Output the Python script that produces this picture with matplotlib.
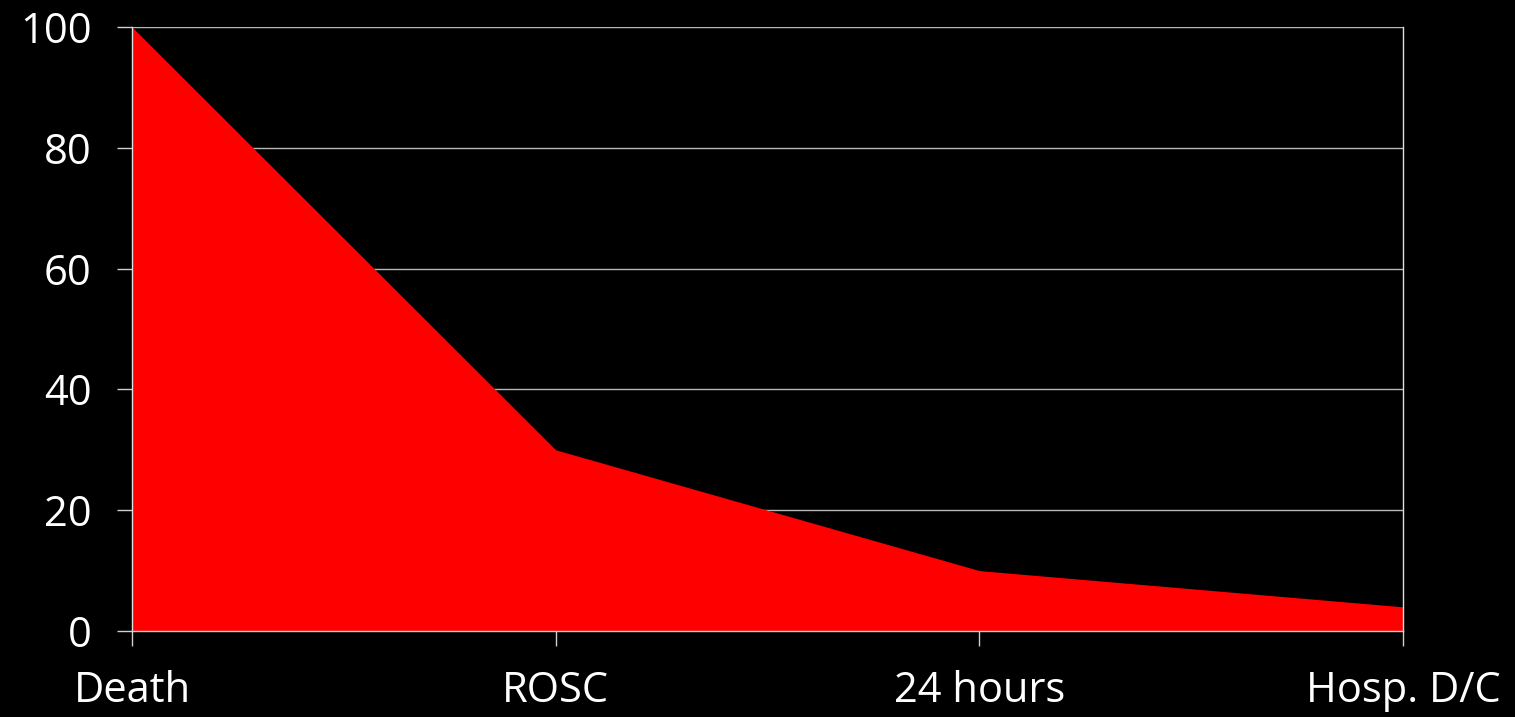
import matplotlib
matplotlib.use("Agg")
import matplotlib.pyplot as plt

stages = ["Death", "ROSC", "24 hours", "Hosp. D/C"]
survival = [100, 30, 10, 4]
yticks = [0, 20, 40, 60, 80, 100]

plt.rcParams['font.family'] = ['Open Sans', 'DejaVu Sans']

fig = plt.figure(figsize=(15.15, 7.17), dpi=100, facecolor="black")
ax = fig.add_axes([132/1515, 1 - 631/717, (1403-132)/1515, (631-27)/717])
ax.set_facecolor("black")

x = list(range(len(stages)))
ax.fill_between(x, 0, survival, color="#ff0000", linewidth=0, zorder=2)

ax.set_xlim(0, len(stages) - 1)
ax.set_ylim(0, 100)
ax.set_yticks(yticks)
ax.set_xticks(x)
ax.set_xticklabels(stages)

ax.yaxis.grid(True, color="#b8b8b8", linewidth=1.0, zorder=1)
ax.set_axisbelow(True)

for side in ["left", "right"]:
    ax.spines[side].set_color("#e0e0e0")
    ax.spines[side].set_linewidth(1.0)
    ax.spines[side].set_zorder(3)
ax.spines["top"].set_visible(False)
ax.spines["bottom"].set_color("#d0d0d0")
ax.spines["bottom"].set_linewidth(1.0)
ax.spines["bottom"].set_zorder(3)

ax.tick_params(axis="y", colors="white", labelsize=30, length=11, width=1, pad=18)
ax.tick_params(axis="x", colors="white", labelsize=30, length=11, width=1, pad=17)
for t in ax.get_xticklabels() + ax.get_yticklabels():
    t.set_color("white")
ax.tick_params(axis="both", color="#d0d0d0")

fig.savefig("out.png", dpi=100, facecolor="black")
